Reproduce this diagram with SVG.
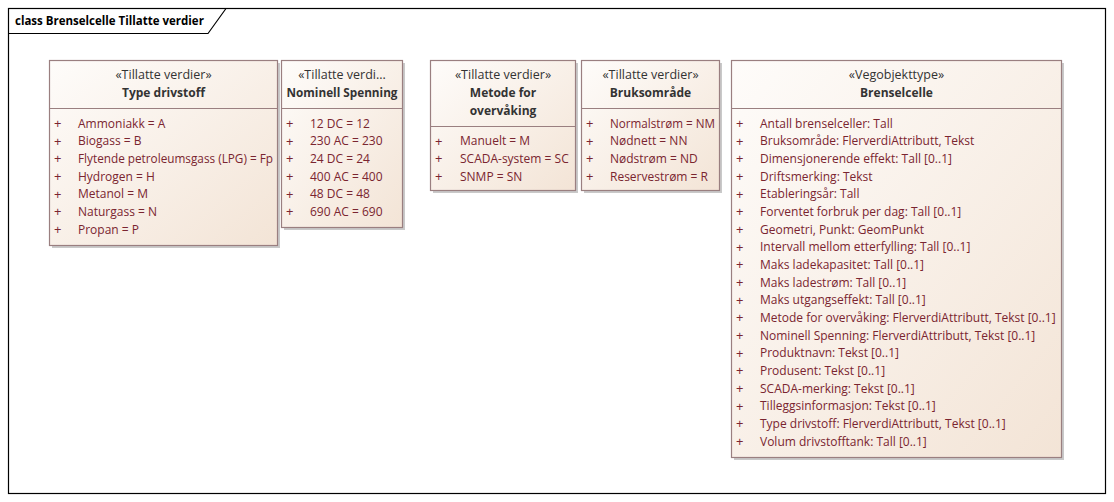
<svg xmlns="http://www.w3.org/2000/svg" width="1114" height="502" viewBox="0 0 1114 502">
<style>
text{font-family:"Open Sans","Noto Sans","Liberation Sans",sans-serif;font-size:12px}
.st{fill:#333;text-anchor:middle;font-size:12.5px}
.nm{fill:#333;text-anchor:middle;font-weight:bold}
.at{fill:#7a2530}
.pl{font-size:13px}
.box{fill:url(#g);stroke:#9a7f80;stroke-width:1.2}
.sh{fill:#c9c9c9}
.dv{stroke:#9a7f80;stroke-width:1.2}
.title{fill:#000;font-size:11.5px;font-weight:bold}
</style>
<defs>
<linearGradient id="g" x1="0" y1="0" x2="1" y2="1">
<stop offset="0" stop-color="#fefcfa"/>
<stop offset="1" stop-color="#f3e4d6"/>
</linearGradient>
</defs>
<g id="frame">
<rect x="8.5" y="8.5" width="1097" height="485" fill="#fff" stroke="#000" stroke-width="1.2"/>
<path d="M8.5 33.5 H208 L226 8.5" fill="none" stroke="#000" stroke-width="1.2"/>
<text x="15" y="25" class="title">class Brenselcelle Tillatte verdier</text>
</g>
<g id="connectors"></g>
<g id="type-drivstoff">
<rect x="52" y="63" width="228" height="185" class="sh"/>
<rect x="49.5" y="60.5" width="228" height="185" class="box"/>
<line x1="49.5" y1="108.5" x2="277.5" y2="108.5" class="dv"/>
<text x="163.5" y="79" class="st">«Tillatte verdier»</text>
<text x="163.5" y="97" class="nm">Type drivstoff</text>
<g class="at">
<text x="54" y="128" class="pl">+</text><text x="78" y="127.5">Ammoniakk = A</text>
<text x="54" y="145.7" class="pl">+</text><text x="78" y="145.2">Biogass = B</text>
<text x="54" y="163.3" class="pl">+</text><text x="78" y="162.8" textLength="195" lengthAdjust="spacingAndGlyphs">Flytende petroleumsgass (LPG) = Fp</text>
<text x="54" y="181" class="pl">+</text><text x="78" y="180.5">Hydrogen = H</text>
<text x="54" y="198.7" class="pl">+</text><text x="78" y="198.2">Metanol = M</text>
<text x="54" y="216.3" class="pl">+</text><text x="78" y="215.8">Naturgass = N</text>
<text x="54" y="234" class="pl">+</text><text x="78" y="233.5">Propan = P</text>
</g>
</g>
<g id="nominell-spenning">
<rect x="284" y="63" width="121" height="167" class="sh"/>
<rect x="281.5" y="60.5" width="121" height="167" class="box"/>
<line x1="281.5" y1="108.5" x2="402.5" y2="108.5" class="dv"/>
<text x="342" y="79" class="st">«Tillatte verdi...</text>
<text x="342" y="97" class="nm" textLength="111" lengthAdjust="spacingAndGlyphs">Nominell Spenning</text>
<g class="at">
<text x="286" y="128" class="pl">+</text><text x="310" y="127.5">12 DC = 12</text>
<text x="286" y="145.7" class="pl">+</text><text x="310" y="145.2">230 AC = 230</text>
<text x="286" y="163.3" class="pl">+</text><text x="310" y="162.8">24 DC = 24</text>
<text x="286" y="181" class="pl">+</text><text x="310" y="180.5">400 AC = 400</text>
<text x="286" y="198.7" class="pl">+</text><text x="310" y="198.2">48 DC = 48</text>
<text x="286" y="216.3" class="pl">+</text><text x="310" y="215.8">690 AC = 690</text>
</g>
</g>
<g id="metode-for-overvaking">
<rect x="433" y="63" width="145" height="130" class="sh"/>
<rect x="430.5" y="60.5" width="145" height="130" class="box"/>
<line x1="430.5" y1="126.5" x2="575.5" y2="126.5" class="dv"/>
<text x="503" y="79" class="st">«Tillatte verdier»</text>
<text x="503" y="97" class="nm">Metode for</text>
<text x="503" y="114.5" class="nm">overvåking</text>
<g class="at">
<text x="435" y="145.7" class="pl">+</text><text x="460" y="145.2">Manuelt = M</text>
<text x="435" y="163.3" class="pl">+</text><text x="460" y="162.8">SCADA-system = SC</text>
<text x="435" y="181" class="pl">+</text><text x="460" y="180.5">SNMP = SN</text>
</g>
</g>
<g id="bruksomrade">
<rect x="584" y="63" width="138" height="130" class="sh"/>
<rect x="581.5" y="60.5" width="138" height="130" class="box"/>
<line x1="581.5" y1="108.5" x2="719.5" y2="108.5" class="dv"/>
<text x="650.5" y="79" class="st">«Tillatte verdier»</text>
<text x="650.5" y="97" class="nm">Bruksområde</text>
<g class="at">
<text x="586" y="128" class="pl">+</text><text x="610" y="127.5" textLength="105" lengthAdjust="spacingAndGlyphs">Normalstrøm = NM</text>
<text x="586" y="145.7" class="pl">+</text><text x="610" y="145.2">Nødnett = NN</text>
<text x="586" y="163.3" class="pl">+</text><text x="610" y="162.8">Nødstrøm = ND</text>
<text x="586" y="181" class="pl">+</text><text x="610" y="180.5">Reservestrøm = R</text>
</g>
</g>
<g id="brenselcelle">
<rect x="734" y="63" width="330" height="397" class="sh"/>
<rect x="731.5" y="60.5" width="330" height="397" class="box"/>
<line x1="731.5" y1="108.5" x2="1061.5" y2="108.5" class="dv"/>
<text x="896.5" y="79" class="st">«Vegobjekttype»</text>
<text x="896.5" y="97" class="nm">Brenselcelle</text>
<g class="at">
<text x="736" y="128" class="pl">+</text><text x="760" y="127.5">Antall brenselceller: Tall</text>
<text x="736" y="145.7" class="pl">+</text><text x="760" y="145.2">Bruksområde: FlerverdiAttributt, Tekst</text>
<text x="736" y="163.3" class="pl">+</text><text x="760" y="162.8">Dimensjonerende effekt: Tall [0..1]</text>
<text x="736" y="181" class="pl">+</text><text x="760" y="180.5">Driftsmerking: Tekst</text>
<text x="736" y="198.7" class="pl">+</text><text x="760" y="198.2">Etableringsår: Tall</text>
<text x="736" y="216.3" class="pl">+</text><text x="760" y="215.8">Forventet forbruk per dag: Tall [0..1]</text>
<text x="736" y="234" class="pl">+</text><text x="760" y="233.5">Geometri, Punkt: GeomPunkt</text>
<text x="736" y="251.7" class="pl">+</text><text x="760" y="251.2">Intervall mellom etterfylling: Tall [0..1]</text>
<text x="736" y="269.3" class="pl">+</text><text x="760" y="268.8">Maks ladekapasitet: Tall [0..1]</text>
<text x="736" y="287" class="pl">+</text><text x="760" y="286.5">Maks ladestrøm: Tall [0..1]</text>
<text x="736" y="304.7" class="pl">+</text><text x="760" y="304.2">Maks utgangseffekt: Tall [0..1]</text>
<text x="736" y="322.3" class="pl">+</text><text x="760" y="321.8">Metode for overvåking: FlerverdiAttributt, Tekst [0..1]</text>
<text x="736" y="340" class="pl">+</text><text x="760" y="339.5">Nominell Spenning: FlerverdiAttributt, Tekst [0..1]</text>
<text x="736" y="357.7" class="pl">+</text><text x="760" y="357.2">Produktnavn: Tekst [0..1]</text>
<text x="736" y="375.3" class="pl">+</text><text x="760" y="374.8">Produsent: Tekst [0..1]</text>
<text x="736" y="393" class="pl">+</text><text x="760" y="392.5">SCADA-merking: Tekst [0..1]</text>
<text x="736" y="410.7" class="pl">+</text><text x="760" y="410.2">Tilleggsinformasjon: Tekst [0..1]</text>
<text x="736" y="428.3" class="pl">+</text><text x="760" y="427.8">Type drivstoff: FlerverdiAttributt, Tekst [0..1]</text>
<text x="736" y="446" class="pl">+</text><text x="760" y="445.5">Volum drivstofftank: Tall [0..1]</text>
</g>
</g>
</svg>
